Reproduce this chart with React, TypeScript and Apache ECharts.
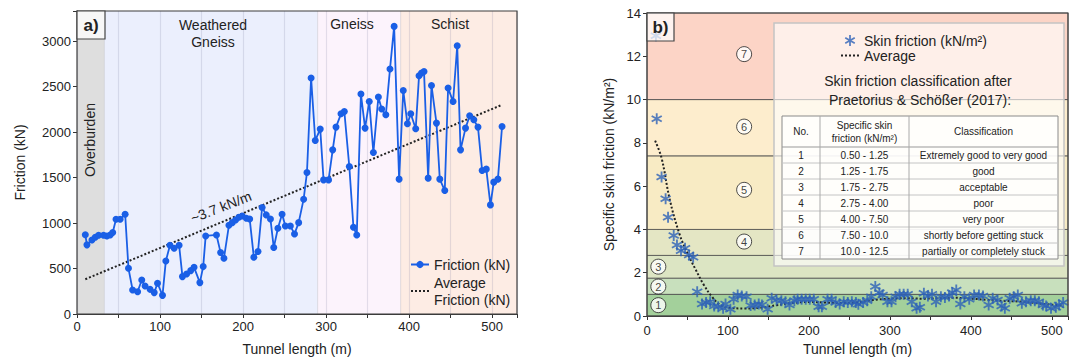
import { useEffect, useRef } from 'react';
import * as echarts from 'echarts';

// ---------- Panel a data ----------
const frictionData: [number, number][] = [
  [10, 870], [12, 760], [18, 814], [22, 843], [26, 865], [32, 865], [36, 858], [40, 869], [43, 895],
  [47, 1041], [52, 1041], [58, 1096], [62, 502], [67, 264], [73, 245], [78, 374], [82, 308], [88, 271],
  [93, 235], [97, 338], [103, 205], [107, 583], [112, 755], [117, 722], [123, 755], [127, 411], [132, 440],
  [137, 477], [141, 513], [148, 345], [152, 521], [155, 858], [168, 869], [173, 675], [177, 612], [183, 975],
  [187, 1004], [191, 1034], [195, 1063], [199, 1078], [204, 1052], [208, 1045], [213, 624], [218, 686],
  [223, 1170], [228, 1089], [233, 1045], [237, 730], [242, 943], [247, 1097], [251, 968], [257, 968],
  [262, 880], [267, 1004], [273, 1262], [277, 1555], [282, 2593], [287, 1907], [293, 2032], [297, 1474],
  [303, 1474], [308, 1804], [312, 2054], [318, 2200], [322, 2226], [328, 1621], [333, 954], [337, 869],
  [342, 2417], [347, 2043], [352, 2336], [357, 1775], [363, 2384], [367, 2252], [372, 2189], [377, 2692],
  [382, 3161], [388, 1482], [393, 2457], [398, 2090], [402, 2200], [408, 2035], [412, 2618], [415, 2648],
  [418, 2666], [423, 1493], [427, 2512], [433, 2098], [437, 1482], [443, 1357], [447, 2483], [453, 2336],
  [458, 2948], [462, 1804], [468, 2043], [473, 2178], [478, 2134], [483, 2054], [488, 1577], [493, 1592],
  [498, 1199], [502, 1449], [507, 1482], [512, 2061],
];
const frictionTrend: [number, number][] = [[10, 382], [512, 2299]];
const zoneNamesA = ['Overburden', 'Weathered\nGneiss', 'Gneiss', 'Schist'];
const zoneEdgesA = [0, 33, 290, 390, 530];
const zoneColorsA = ['#dedede', '#ebeffd', '#fcf3fc', '#fdece4'];

// ---------- Panel b data ----------
const skinData: [number, number][] = [
  [11, 12.95], [12, 9.11], [18, 6.42], [23, 5.42], [26, 4.56], [33, 3.72], [37, 3.28], [42, 3.02], [47, 3.13],
  [52, 2.82], [57, 2.71], [62, 1.12], [68, 0.55], [73, 0.62], [78, 0.66], [83, 0.46], [88, 0.43], [94, 0.36],
  [97, 0.55], [103, 0.31], [107, 0.77], [112, 0.97], [117, 0.92], [123, 0.89], [128, 0.48], [133, 0.51],
  [138, 0.55], [142, 0.51], [149, 0.31], [154, 0.82], [160, 0.74], [166, 0.71], [171, 0.66], [176, 0.51],
  [182, 0.71], [186, 0.77], [191, 0.77], [196, 0.77], [201, 0.77], [206, 0.77], [212, 0.43], [216, 0.43],
  [223, 0.77], [228, 0.77], [233, 0.62], [238, 0.55], [243, 0.66], [248, 0.62], [253, 0.66], [258, 0.62],
  [261, 0.54], [267, 0.62], [272, 0.71], [277, 0.89], [282, 1.36], [287, 1.08], [291, 0.97], [297, 0.66],
  [302, 0.66], [307, 0.89], [312, 1.0], [317, 1.0], [322, 1.0], [327, 0.66], [333, 0.36], [337, 0.4],
  [342, 1.05], [347, 0.92], [352, 1.0], [357, 0.66], [363, 0.89], [368, 0.85], [373, 0.92], [377, 1.08],
  [382, 1.2], [387, 0.55], [392, 0.89], [398, 0.77], [404, 0.97], [410, 0.97], [415, 0.92], [422, 0.51],
  [427, 0.82], [433, 0.74], [438, 0.46], [442, 0.36], [448, 0.82], [453, 0.89], [458, 0.97], [463, 0.59],
  [468, 0.66], [474, 0.71], [479, 0.71], [484, 0.66], [489, 0.51], [493, 0.46], [499, 0.36], [505, 0.4],
  [509, 0.51], [514, 0.62],
];
const skinAverage: [number, number][] = [
  [10, 8.1], [18, 7.3], [28, 5.4], [40, 3.8], [50, 2.9], [60, 2.15], [70, 1.45], [80, 0.9], [90, 0.52],
  [100, 0.38], [120, 0.35], [140, 0.38], [160, 0.5], [180, 0.6], [200, 0.65], [220, 0.62], [240, 0.6],
  [260, 0.63], [280, 0.74], [300, 0.8], [320, 0.82], [340, 0.8], [360, 0.82], [380, 0.84], [400, 0.8],
  [420, 0.75], [440, 0.7], [460, 0.67], [480, 0.6], [500, 0.52], [512, 0.5],
];
const classEdges = [0, 1.0, 1.75, 2.8, 4.0, 7.4, 10, 14];
const classColors = ['#a3d09b', '#c8e0bd', '#dce5c3', '#e4e6c4', '#f8ebc4', '#fdedcd', '#fcd4c6'];
const classMarkers: [number, number, string][] = [
  [14, 0.5, '1'], [14, 1.36, '2'], [14, 2.28, '3'], [120, 3.44, '4'], [120, 5.83, '5'], [120, 8.75, '6'], [120, 12.1, '7'],
];
const classNo = ['1', '2', '3', '4', '5', '6', '7'];
const classRange = ['0.50 - 1.25', '1.25 - 1.75', '1.75 - 2.75', '2.75 - 4.00', '4.00 - 7.50', '7.50 - 10.0', '10.0 - 12.5'];
const classLabel = [
  'Extremely good to very good', 'good', 'acceptable', 'poor', 'very poor',
  'shortly before getting stuck', 'partially or completely stuck',
];

const FONT = 'Liberation Sans, Arial, sans-serif';
const NARROW = 'Liberation Sans Narrow, Liberation Sans, Arial, sans-serif';
const STAR =
  'path://M0.42,0L0.58,0L0.58,1L0.42,1Z M0.893,0.819L0.027,0.319L0.107,0.181L0.973,0.681Z M0.973,0.319L0.107,0.819L0.027,0.681L0.893,0.181Z';

function buildOption() {
  const axisCommon = {
    axisLine: { show: true, lineStyle: { color: '#333', width: 1 } },
    axisTick: { show: true, inside: false, length: 4, lineStyle: { color: '#333' } },
    axisLabel: { fontSize: 13, color: '#222', fontFamily: FONT, margin: 6 },
    nameTextStyle: { fontSize: 14, color: '#222', fontFamily: FONT },
  };

  // Table graphics
  const cols = [782, 820, 909, 1058];
  const rows = [116, 147, 163, 179, 195, 211, 227, 243, 259];
  const tableEls: any[] = [];
  tableEls.push({
    type: 'rect', z: 6, shape: { x: cols[0], y: rows[0], width: cols[3] - cols[0], height: rows[8] - rows[0] },
    style: { fill: 'rgba(255,255,255,0.8)', stroke: '#8a8a8a', lineWidth: 1 },
  });
  for (let i = 1; i < rows.length - 1; i++) {
    tableEls.push({
      type: 'line', z: 6, shape: { x1: cols[0], y1: rows[i], x2: cols[3], y2: rows[i] },
      style: { stroke: i === 1 ? '#999' : '#c4c4c4', lineWidth: 1 },
    });
  }
  for (let j = 1; j < cols.length - 1; j++) {
    tableEls.push({
      type: 'line', z: 6, shape: { x1: cols[j], y1: rows[0], x2: cols[j], y2: rows[8] },
      style: { stroke: '#aaa', lineWidth: 1 },
    });
  }
  const cell = (text: string, x: number, y: number, size = 9, lh = 12) => ({
    type: 'text', z: 7, x, y,
    style: { text, align: 'center', verticalAlign: 'middle', fontSize: size, lineHeight: lh, fill: '#222', fontFamily: NARROW },
  });
  const hy = (rows[0] + rows[1]) / 2;
  tableEls.push(cell('No.', (cols[0] + cols[1]) / 2, hy, 10));
  tableEls.push(cell('Specific skin\nfriction (kN/m²)', (cols[1] + cols[2]) / 2, hy, 10, 13));
  tableEls.push(cell('Classification', (cols[2] + cols[3]) / 2, hy, 10));
  for (let r = 0; r < 7; r++) {
    const y = (rows[r + 1] + rows[r + 2]) / 2;
    tableEls.push(cell(classNo[r], (cols[0] + cols[1]) / 2, y, 10));
    tableEls.push(cell(classRange[r], (cols[1] + cols[2]) / 2, y, 10));
    tableEls.push(cell(classLabel[r], (cols[2] + cols[3]) / 2, y, 10));
  }

  const txt = (text: string, x: number, y: number, extra: any = {}) => ({
    type: 'text', z: 20, x, y, ...extra,
    style: { text, align: 'center', verticalAlign: 'middle', fontSize: 14, lineHeight: 17, fill: '#222', fontFamily: FONT, ...(extra.style || {}) },
  });

  const hiddenSymbol = { itemStyle: { opacity: 0, color: 'transparent', borderWidth: 0 } };

  return {
    animation: false,
    backgroundColor: '#ffffff',
    textStyle: { fontFamily: FONT },
    grid: [
      { left: 77, top: 11, width: 440, height: 303, outerBoundsMode: 'none', containLabel: false },
      { left: 647, top: 13, width: 421, height: 303, outerBoundsMode: 'none', containLabel: false },
    ],
    xAxis: [
      {
        ...axisCommon, type: 'value', gridIndex: 0, min: 0, max: 530, interval: 50, z: 3,
        axisLabel: { ...axisCommon.axisLabel, formatter: (v: number) => (v % 100 === 0 ? String(v) : '') },
        splitLine: { show: true, lineStyle: { color: 'rgba(110,110,150,0.18)', width: 1.2 } },
        name: 'Tunnel length (m)', nameLocation: 'middle', nameGap: 28,
      },
      {
        ...axisCommon, type: 'value', gridIndex: 1, min: 0, max: 520, interval: 50,
        axisLabel: { ...axisCommon.axisLabel, margin: 8, formatter: (v: number) => (v % 100 === 0 ? String(v) : '') },
        splitLine: { show: false },
        name: 'Tunnel length (m)', nameLocation: 'middle', nameGap: 26,
      },
    ],
    yAxis: [
      {
        ...axisCommon, type: 'value', gridIndex: 0, min: 0, max: 3330, interval: 500,
        axisLabel: { ...axisCommon.axisLabel, formatter: (v: number) => (v % 500 === 0 ? String(v) : '') },
        splitLine: { show: false },
        name: 'Friction (kN)', nameLocation: 'middle', nameGap: 50,
      },
      {
        ...axisCommon, type: 'value', gridIndex: 1, min: 0, max: 14, interval: 2,
        splitLine: { show: false },
        name: 'Specific skin friction (kN/m²)', nameLocation: 'middle', nameGap: 31,
      },
    ],
    legend: [
      {
        data: ['Friction (kN)', { name: 'Average\nFriction (kN)', ...hiddenSymbol }], orient: 'vertical', left: 410, top: 256,
        itemWidth: 18, itemHeight: 9, itemGap: 1, padding: 0,
        textStyle: { fontSize: 14, color: '#222', lineHeight: 17, fontFamily: FONT },
      },
      {
        data: ['Skin friction (kN/m²)', { name: 'Average', ...hiddenSymbol }], orient: 'vertical', left: 840, top: 33,
        itemWidth: 18, itemHeight: 11, itemGap: 0, padding: 0,
        textStyle: { fontSize: 14, color: '#222', lineHeight: 15, fontFamily: FONT },
      },
    ],
    series: [
      {
        type: 'line', xAxisIndex: 0, yAxisIndex: 0, data: [], silent: true, z: 0,
        markArea: {
          silent: true,
          data: zoneEdgesA.slice(0, -1).map((e, i) => [
            { xAxis: e, itemStyle: { color: zoneColorsA[i], borderColor: 'rgba(0,0,0,0.07)', borderWidth: 1 } },
            { xAxis: zoneEdgesA[i + 1] },
          ]),
        },
      },
      {
        type: 'line', xAxisIndex: 1, yAxisIndex: 1, data: [], silent: true, z: 0,
        markArea: {
          silent: true,
          data: classEdges.slice(0, -1).map((e, i) => [
            { yAxis: e, itemStyle: { color: classColors[i], borderColor: '#4a4a4a', borderWidth: 0.8 } },
            { yAxis: classEdges[i + 1] },
          ]),
        },
      },
      {
        name: 'Average\nFriction (kN)', type: 'line', xAxisIndex: 0, yAxisIndex: 0, z: 4,
        data: frictionTrend, symbol: 'none',
        lineStyle: { type: 'dotted', width: 2, color: '#222' }, itemStyle: { color: '#222' },
      },
      {
        name: 'Friction (kN)', type: 'line', xAxisIndex: 0, yAxisIndex: 0, z: 5,
        data: frictionData, symbol: 'circle', symbolSize: 7, showSymbol: true,
        lineStyle: { width: 1.8, color: '#1a5fe6' }, itemStyle: { color: '#1a5fe6' },
      },
      {
        name: 'Average', type: 'line', xAxisIndex: 1, yAxisIndex: 1, z: 4,
        data: skinAverage, symbol: 'none', smooth: 0.4,
        lineStyle: { type: 'dotted', width: 2, color: '#222' }, itemStyle: { color: '#222' },
      },
      {
        name: 'Skin friction (kN/m²)', type: 'scatter', xAxisIndex: 1, yAxisIndex: 1, z: 5,
        data: skinData, symbol: STAR, symbolSize: 11,
        itemStyle: { color: '#2d62b8' },
      },
      {
        type: 'scatter', xAxisIndex: 1, yAxisIndex: 1, z: 4, silent: true,
        data: classMarkers, symbol: 'circle', symbolSize: 15,
        itemStyle: { color: '#ffffff', borderColor: '#222', borderWidth: 1 },
        label: {
          show: true, position: 'inside', fontSize: 11, color: '#111', fontFamily: FONT,
          formatter: (p: any) => p.value[2],
        },
      },
    ],
    graphic: [
      // panel a frame and label box
      { type: 'rect', z: 20, shape: { x: 77, y: 11, width: 440, height: 303 }, style: { fill: 'none', stroke: '#444', lineWidth: 1.2 } },
      { type: 'rect', z: 20, shape: { x: 77, y: 11, width: 28, height: 28 }, style: { fill: '#f7f7f7', stroke: '#444', lineWidth: 1.2 } },
      txt('a)', 91, 25, { style: { fontSize: 17, fontWeight: 'bold' } }),
      txt(zoneNamesA[0], 90, 140, { rotation: Math.PI / 2 }),
      txt(zoneNamesA[1], 213, 33),
      txt(zoneNamesA[2], 352, 24),
      txt(zoneNamesA[3], 450, 24),
      txt('~3.7 kN/m', 221, 207, { rotation: 0.37 }),
      // panel b frame and label box
      { type: 'rect', z: 20, shape: { x: 647, y: 13, width: 421, height: 303 }, style: { fill: 'none', stroke: '#444', lineWidth: 1.2 } },
      { type: 'rect', z: 20, shape: { x: 647, y: 13, width: 27, height: 28 }, style: { fill: 'rgba(255,255,255,0.72)', stroke: '#444', lineWidth: 1.2 } },
      txt('b)', 660.5, 27, { style: { fontSize: 17, fontWeight: 'bold' } }),
      // legend / classification box
      { type: 'rect', z: 3, shape: { x: 774, y: 23, width: 290, height: 243 }, style: { fill: 'rgba(255,255,255,0.62)', stroke: '#c4c4c4', lineWidth: 1.5 } },
      txt('Skin friction classification after', 918, 81),
      txt('Praetorius & Schößer (2017):', 920, 100),
      ...tableEls,
    ],
  };
}

export default function App() {
  const ref = useRef<HTMLDivElement>(null);
  useEffect(() => {
    const chart = echarts.init(ref.current!, null, { renderer: 'svg' });
    chart.setOption(buildOption() as any);
    return () => chart.dispose();
  }, []);
  return (
    <div
      ref={ref}
      style={{ position: 'absolute', left: 0, top: 0, width: 1069, height: 361, background: '#fff' }}
    />
  );
}
